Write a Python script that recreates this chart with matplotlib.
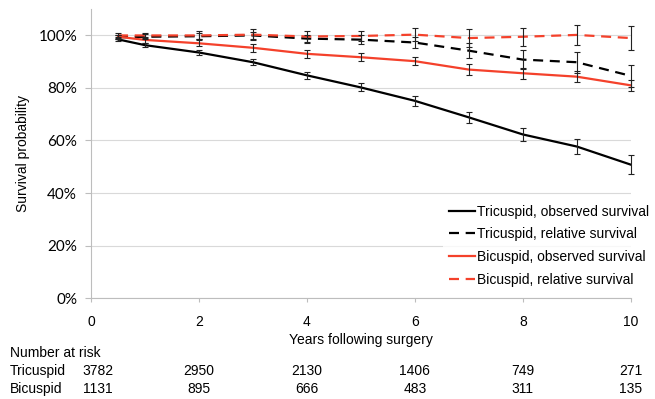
import matplotlib
matplotlib.use("Agg")
import matplotlib.pyplot as plt
import matplotlib.transforms as mtransforms
from matplotlib.ticker import FuncFormatter

plt.rcParams['font.family'] = ['Liberation Sans', 'DejaVu Sans']

years = [0.5, 1, 2, 3, 4, 5, 6, 7, 8, 9, 10]

tri_obs = [98.5, 96.3, 93.5, 89.8, 84.8, 80.2, 75.1, 68.8, 62.3, 57.7, 50.8]
tri_obs_err = [0.8, 0.8, 1.0, 1.2, 1.3, 1.5, 1.8, 2.2, 2.5, 3.0, 3.5]
tri_rel = [99.3, 99.5, 99.7, 100.0, 98.8, 98.4, 97.3, 94.2, 90.8, 89.8, 84.6]
tri_rel_err = [0.8, 0.9, 1.1, 1.3, 1.5, 1.8, 2.2, 2.8, 3.5, 4.0, 4.2]
bi_obs = [99.5, 98.3, 97.0, 95.3, 93.0, 91.7, 90.2, 87.0, 85.6, 84.3, 81.0]
bi_obs_err = [0.8, 1.0, 1.2, 1.5, 1.5, 1.5, 1.5, 2.0, 2.0, 2.0, 2.0]
bi_rel = [100.0, 100.0, 100.0, 100.3, 99.6, 99.8, 100.3, 99.0, 99.5, 100.2, 99.0]
bi_rel_err = [0.8, 1.0, 1.5, 2.0, 2.2, 2.0, 2.5, 3.5, 3.5, 3.7, 4.5]

risk_years = [0.12, 2, 4, 6, 8, 10]
risk_tri = [3782, 2950, 2130, 1406, 749, 271]
risk_bi = [1131, 895, 666, 483, 311, 135]

red = '#f4412b'

fig = plt.figure(figsize=(6.55, 3.99), dpi=100)
ax = fig.add_axes([0.139, 0.253, 0.824, 0.724])

dash = (0, (4.5, 3))
ax.plot(years, tri_obs, color='black', lw=1.6, label='Tricuspid, observed survival')
ax.plot(years, tri_rel, color='black', lw=1.6, ls=dash, label='Tricuspid, relative survival')
ax.plot(years, bi_obs, color=red, lw=1.6, label='Bicuspid, observed survival')
ax.plot(years, bi_rel, color=red, lw=1.6, ls=dash, label='Bicuspid, relative survival')

for vals, errs in [(tri_obs, tri_obs_err), (tri_rel, tri_rel_err),
                   (bi_obs, bi_obs_err), (bi_rel, bi_rel_err)]:
    eb = ax.errorbar(years, vals, yerr=errs, fmt='none', ecolor='#222222',
                     elinewidth=0.8, capsize=2.2, capthick=0.8, zorder=4)
    for child in eb.get_children():
        child.set_clip_on(False)

ax.set_xlim(0, 10)
ax.set_ylim(0, 110)
ax.set_yticks([0, 20, 40, 60, 80, 100])
ax.set_xticks([0, 2, 4, 6, 8, 10])
ax.yaxis.set_major_formatter(FuncFormatter(lambda v, p: '%d%%' % v))
ax.grid(axis='y', color='#d9d9d9', lw=0.8)
ax.set_axisbelow(True)
for s in ['top', 'right']:
    ax.spines[s].set_visible(False)
for s in ['left', 'bottom']:
    ax.spines[s].set_color('#bdbdbd')
    ax.spines[s].set_linewidth(0.8)
ax.tick_params(axis='y', length=4, color='#bdbdbd', labelsize=11, pad=6)
ax.tick_params(axis='x', length=3, color='#bdbdbd', labelsize=10, pad=9)
for t in ax.get_yticklabels():
    t.set_family(['Lato', 'DejaVu Sans'])

ax.set_xlabel('Years following surgery', fontsize=10, labelpad=3)
ax.set_ylabel('Survival probability', fontsize=10, labelpad=6)

leg = ax.legend(loc='lower right', bbox_to_anchor=(1.0, 0.268),
                bbox_transform=fig.transFigure, frameon=True, fontsize=10,
                handlelength=1.9, handletextpad=0.15, labelspacing=0.62,
                borderaxespad=0, borderpad=0.4, fancybox=False)
leg.get_frame().set_facecolor('white')
leg.get_frame().set_edgecolor('none')

trans = mtransforms.blended_transform_factory(ax.transData, fig.transFigure)
fig.text(0.015, 0.115, 'Number at risk', fontsize=10, va='center')
fig.text(0.015, 0.070, 'Tricuspid', fontsize=10, va='center')
fig.text(0.015, 0.024, 'Bicuspid', fontsize=10, va='center')
for x, a, b in zip(risk_years, risk_tri, risk_bi):
    ax.text(x, 0.070, str(a), transform=trans, ha='center', va='center', fontsize=10)
    ax.text(x, 0.024, str(b), transform=trans, ha='center', va='center', fontsize=10)

fig.savefig('out.png', dpi=100)
